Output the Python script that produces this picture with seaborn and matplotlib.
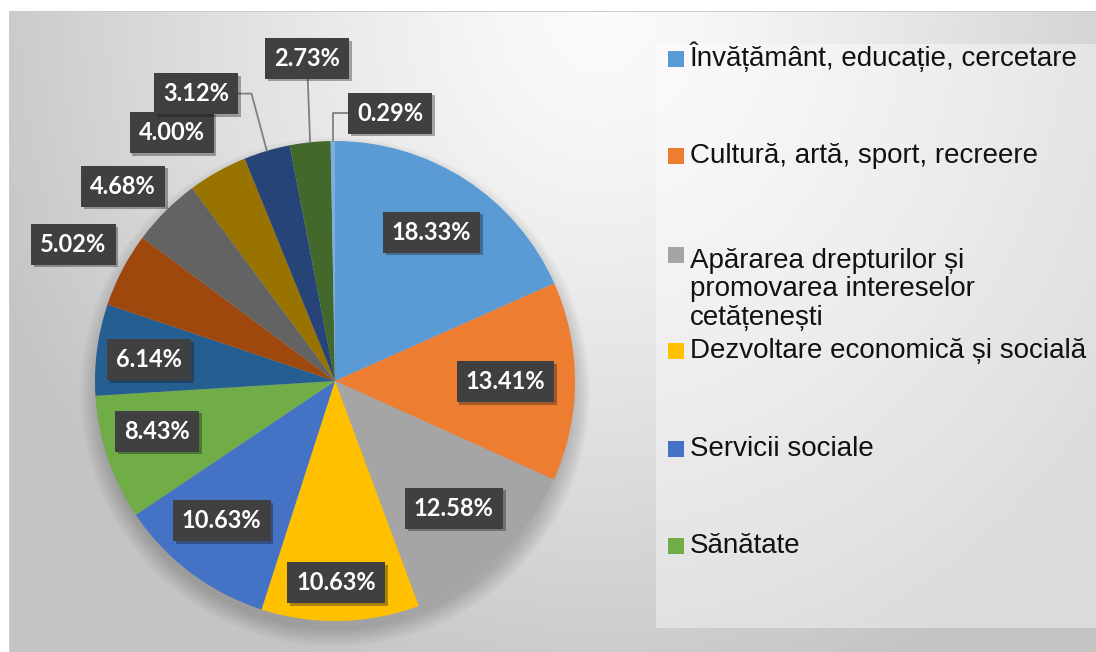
import numpy as np
import matplotlib
matplotlib.use("Agg")
import matplotlib.pyplot as plt
import matplotlib.patheffects as pe
from matplotlib.patches import Rectangle, Circle
import seaborn as sns

# data (percent of organisations per field)
shares = [18.33, 13.41, 12.58, 10.63, 10.63, 8.43, 6.14, 5.02, 4.68, 4.00, 3.12, 2.73, 0.29]
legend_labels = [
    "Învățământ, educație, cercetare",
    "Cultură, artă, sport, recreere",
    "Apărarea drepturilor și\npromovarea intereselor\ncetățenești",
    "Dezvoltare economică și socială",
    "Servicii sociale",
    "Sănătate",
]
slice_colors = ["#5B9BD5", "#ED7D31", "#A5A5A5", "#FFC000", "#4472C4", "#70AD47",
                "#255E91", "#9E480E", "#636363", "#997300", "#264478", "#43682B", "#7CAFDD"]

# label layout: radial distance (in radii) and angle nudge (deg, clockwise)
label_r = [0.74, 0.71, 0.725, 0.84, 0.75, 0.77, 0.78, 1.23, 1.20, 1.24, 1.33, 1.35, 1.14]
label_dang = [0, 0, 0, 1, 2, 3, -1, 0, -2.5, -4, -9.3, 1, 12.2]
leaders = {10: "angle,angleA=0,angleB=105", 11: "arc3", 12: "angle,angleA=0,angleB=90"}

sns.set_theme(style="white")
palette = sns.color_palette(slice_colors)
plt.rcParams["font.family"] = ["Liberation Sans", "DejaVu Sans"]

W, H = 1096, 652
fig = plt.figure(figsize=(W / 100, H / 100), dpi=100)

# soft radial background like the office chart area
bg = fig.add_axes([0, 0, 1, 1], zorder=-5)
yy, xx = np.mgrid[0:H, 0:W]
d = np.sqrt(((xx - 600) / 650) ** 2 + ((yy - 10) / 720) ** 2)
g = 0.985 - 0.215 * np.clip(d, 0, 1) ** 1.3
img = np.dstack([g, g, g])
img[:11, :] = 1
img[:, :9] = 1
img[11, 9:] = 0.8
img[11:, 9] = 0.8
bg.imshow(img, extent=(0, W, H, 0), aspect="auto", interpolation="bilinear")
bg.set_xlim(0, W)
bg.set_ylim(H, 0)
bg.axis("off")

# pie axes: centre (335, 381) px, radius 240 px
R, L = 240, 1.45
side = 2 * L * R
ax = fig.add_axes([(335 - side / 2) / W, (H - 381 - side / 2) / H, side / W, side / H])
wedges, _ = ax.pie(shares, colors=palette, startangle=90, counterclock=False,
                   wedgeprops=dict(linewidth=0))
ax.set_xlim(-L, L)
ax.set_ylim(-L, L)
ax.axis("off")

# soft drop shadow under the pie
for k in range(10):
    ax.add_patch(Circle((0, -0.045), 0.99 + k * 0.008, fc="black", alpha=0.018,
                        ec="none", zorder=0.5))

total = sum(shares)
cum = np.cumsum([0] + shares[:-1])
mids = (cum + np.array(shares) / 2) / total * 360

for i, v in enumerate(shares):
    a = np.deg2rad(mids[i] + label_dang[i])
    tx, ty = label_r[i] * np.sin(a), label_r[i] * np.cos(a)
    m = np.deg2rad(mids[i])
    ex, ey = np.sin(m), np.cos(m)
    arrow = None
    if i in leaders:
        arrow = dict(arrowstyle="-", color="#7f7f7f", lw=1.3, connectionstyle=leaders[i],
                     shrinkA=0, shrinkB=0)
    else:
        ex, ey = tx, ty
    t = ax.annotate(f"{v:.2f}%", xy=(ex, ey), xytext=(tx, ty), ha="center", va="center",
                    fontsize=17, fontweight="bold", color="white",
                    family=["Lato", "DejaVu Sans"],
                    bbox=dict(boxstyle="square,pad=0.38", fc="#404040", ec="none"),
                    arrowprops=arrow, zorder=5)
    t.get_bbox_patch().set_path_effects([pe.SimplePatchShadow(offset=(2, -2), alpha=0.35),
                                         pe.Normal()])

# legend panel (only the first entries fit, as in the original)
fig.add_artist(Rectangle((656 / W, 1 - 628 / H), 440 / W, 584 / H, transform=fig.transFigure,
                         fc="white", alpha=0.4, ec="none", zorder=-1))
leg_base = [66, 163, 262, 358, 456, 553]
line_px = 31.5
for i, lab in enumerate(legend_labels):
    b = leg_base[i]
    fig.add_artist(Rectangle((668 / W, 1 - (b + 1) / H), 16 / W, 16 / H,
                             transform=fig.transFigure, fc=palette[i], ec="none"))
    last = b + lab.count("\n") * line_px  # baseline alignment uses the last line
    fig.text(690 / W, 1 - last / H, lab, va="baseline", ha="left", fontsize=20,
             linespacing=1.13, color="#111111")

fig.savefig("out.png", dpi=100)
